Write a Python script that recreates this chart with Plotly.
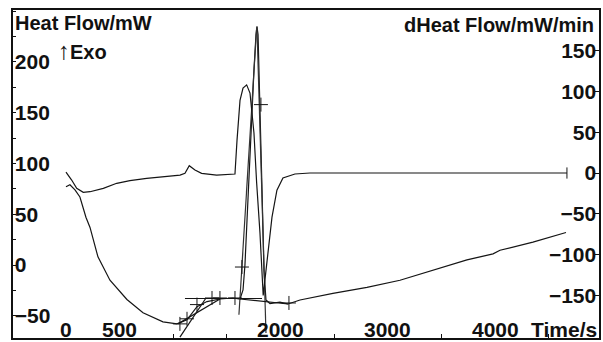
import plotly.graph_objects as go

# ---------------- data ----------------
# Heat flow curve, left axis (time in s, heat flow in mW)
hf_time = [0, 37, 84, 130, 186, 224, 298, 410, 568, 718, 904, 1034, 1128, 1221, 1314, 1435,
           1556, 1622, 1650, 1668, 1696, 1724, 1752, 1771, 1780, 1790, 1808, 1827, 1845,
           1864, 1901, 1994, 2070, 2181, 2488, 2805, 3113, 3420, 3737, 3980, 4045, 4352, 4660]
hf_value = [77, 79, 74, 67, 47, 37, 8, -15, -34, -47, -56, -58, -54, -41, -36, -33.5,
            -32.5, -33.5, -24.6, 0, 64, 133, 192, 227, 235, 227, 163, 74, -5,
            -34.5, -38, -36.5, -38.4, -34.5, -28, -22, -15, -5, 5, 11, 14.5, 22.5, 32]

# Derivative of heat flow, right axis (mW/min)
dhf_time = [0, 53, 100, 161, 224, 348, 473, 596, 752, 907, 1063, 1109, 1149, 1202, 1264,
            1404, 1528, 1575, 1594, 1622, 1650, 1684, 1715, 1752, 1777, 1808, 1838, 1858,
            1883, 1920, 1966, 2022, 2134, 2274, 2600, 3000, 3500, 4000, 4669]
dhf_value = [1, -8.6, -18.8, -23.7, -22.9, -18.8, -12.6, -9.4, -6.5, -4.5, -2.5, -0.4, 8.9,
             3.7, -0.4, -2.5, -1.6, -1.2, 40, 89, 104, 108, 98, 49, -12, -73.5, -150, -125,
             -94, -54, -21, -6, -1.2, 0, 0, 0.3, 0, 0, 0]

# Evaluation construction lines (left axis units)
flat_base_time = [1109, 1827]
flat_base_value = [-33, -33]
onset_tangent_time = [1062, 1305]
onset_tangent_value = [-71, -32.5]
chord_time = [1044, 1435]
chord_value = [-58, -33.5]
lead_tangent_time = [1612, 1777]
lead_tangent_value = [-49, 233.5]
trail_tangent_time = [1780, 1864]
trail_tangent_value = [235, -67]
peak_base_time = [1622, 2069]
peak_base_value = [-33.5, -38.4]

# "+" evaluation markers (left axis units)
mark_time = [1062, 1128, 1221, 1361, 1435, 1575, 1640, 1817, 2078]
mark_value = [-58, -53, -39, -32.5, -32.5, -32.5, -2, 158, -37.4]

# Axis ticks / labels
x_label_vals = [0, 500, 2000, 3000, 4000]
x_label_text = ["0", "500", "2000", "3000", "4000"]
x_minor_vals = [1000, 1500, 2500, 3500, 4500]
left_tick_vals = [-50, 0, 50, 100, 150, 200]
right_tick_vals = [-150, -100, -50, 0, 50, 100, 150]

# ---------------- figure ----------------
W, H = 603, 342
L, R, T, B = 12, 600, 9, 339


def px_x(x):
    return (x - L) / (R - L)


def px_y(y):
    return (B - y) / (B - T)


FONT = dict(family="Liberation Sans, Arial, sans-serif", size=20, color="#111", weight="bold")
TICKFONT = dict(family="Liberation Sans, Arial, sans-serif", size=21, color="#111",
                weight="bold")

fig = go.Figure()


def add_line(t, v, axis="y", width=1.2, color="#151515"):
    fig.add_trace(go.Scatter(x=t, y=v, mode="lines", yaxis=axis,
                             line=dict(color=color, width=width), showlegend=False,
                             hoverinfo="skip"))


add_line(hf_time, hf_value)
add_line(dhf_time, dhf_value, "y2")
add_line(flat_base_time, flat_base_value)
add_line(onset_tangent_time, onset_tangent_value)
add_line(chord_time, chord_value)
add_line(lead_tangent_time, lead_tangent_value, color="#333")
add_line(trail_tangent_time, trail_tangent_value, color="#333")
add_line(peak_base_time, peak_base_value)

fig.add_trace(go.Scatter(x=mark_time, y=mark_value, mode="markers", yaxis="y",
                         marker=dict(symbol="cross-thin", size=10,
                                     line=dict(color="#151515", width=1)),
                         showlegend=False, hoverinfo="skip"))
fig.add_trace(go.Scatter(x=[dhf_time[-1]], y=[dhf_value[-1]], mode="markers", yaxis="y2",
                         marker=dict(symbol="line-ns", size=8,
                                     line=dict(color="#151515", width=1)),
                         showlegend=False, hoverinfo="skip"))

annotations = [
    dict(text="Heat Flow/mW", x=px_x(14), y=px_y(23), xref="paper", yref="paper",
         xanchor="left", yanchor="middle", showarrow=False, font=FONT, borderpad=0),
    dict(text="<span style='font-size:24px;font-weight:normal'>↑</span>Exo",
         x=px_x(57), y=px_y(50), xref="paper", yref="paper",
         xanchor="left", yanchor="middle", showarrow=False, font=FONT, borderpad=0),
    dict(text="dHeat Flow/mW/min", x=px_x(595), y=px_y(25), xref="paper", yref="paper",
         xanchor="right", yanchor="middle", showarrow=False, font=FONT, borderpad=0),
    dict(text="Time/s", x=px_x(598), y=px_y(329), xref="paper", yref="paper",
         xanchor="right", yanchor="middle", showarrow=False, font=TICKFONT, borderpad=0),
]
for v, s in zip(x_label_vals, x_label_text):
    annotations.append(dict(text=s, x=v, y=px_y(329), xref="x", yref="paper",
                            xanchor="center", yanchor="middle", showarrow=False,
                            font=TICKFONT, borderpad=0))

fig.update_layout(
    width=W, height=H,
    margin=dict(l=L, r=W - R, t=T, b=H - B, autoexpand=False),
    paper_bgcolor="white", plot_bgcolor="white",
    font=FONT,
    xaxis=dict(range=[-503, 4977], showgrid=False, zeroline=False, showline=False,
               showticklabels=False, ticks="",
               tickmode="array", tickvals=x_label_vals,
               minor=dict(tickmode="array", tickvals=x_minor_vals, ticks="inside",
                          ticklen=5, tickwidth=1, tickcolor="#111"),
               automargin=False, fixedrange=True),
    yaxis=dict(range=[-72.9, 252.2], showgrid=False, zeroline=False, showline=False,
               tickmode="array", tickvals=left_tick_vals, ticks="inside",
               ticklen=4, tickwidth=1, tickcolor="#111",
               ticklabelposition="inside", tickfont=TICKFONT,
               minor=dict(dtick=25, tick0=0, ticks="inside", ticklen=4, tickwidth=1,
                          tickcolor="#111"),
               automargin=False, fixedrange=True),
    yaxis2=dict(range=[-203.4, 201], overlaying="y", side="right",
                showgrid=False, zeroline=False, showline=False,
                tickmode="array", tickvals=right_tick_vals, ticks="inside",
                ticklen=5, tickwidth=1, tickcolor="#111",
                ticklabelposition="inside", tickfont=TICKFONT,
                automargin=False, fixedrange=True),
    shapes=[dict(type="rect", xref="paper", yref="paper", x0=0, x1=1, y0=0, y1=1,
                 line=dict(color="#111", width=2), layer="above")],
    annotations=annotations,
)

fig.write_html("out.html", config={"displayModeBar": False},
               post_script="document.body.style.margin='0px';"
                           "document.body.style.padding='0px';")
